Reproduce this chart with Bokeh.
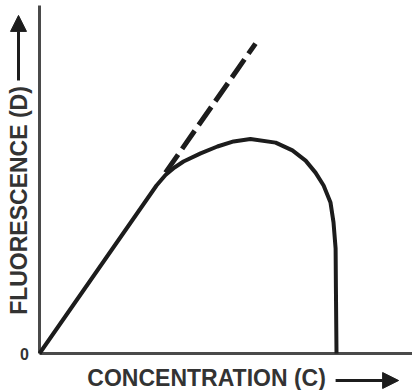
from bokeh.plotting import figure
from bokeh.models import Range1d, Arrow, NormalHead
from bokeh.core.properties import value
from bokeh.embed import file_html
from bokeh.resources import INLINE

# Measured fluorescence D against concentration C (arbitrary units)
conc = [0.0, 3.9, 4.2, 4.5, 4.8, 5.37, 5.93, 6.47, 7.03, 7.87, 8.43, 8.87,
        9.2, 9.47, 9.7, 9.8, 9.87, 9.88, 9.9]
fluor = [0.0, 5.6, 5.95, 6.2, 6.4, 6.67, 6.9, 7.07, 7.15, 7.03, 6.77, 6.43,
         6.03, 5.6, 5.03, 4.37, 3.5, 2.2, 0.0]

# Ideal linear response, continued past the point where the curve bends away
ideal_conc = [4.2, 7.2]
ideal_fluor = [6.03, 10.33]

x_title = "CONCENTRATION (C)"
y_title = "FLUORESCENCE (D)"
origin_label = "0"

INK = "#1c1c1c"
AXIS = "#4a4a4a"
TEXT = "#333333"

p = figure(width=412, height=390, output_backend="svg", toolbar_location=None,
           x_range=Range1d(-1.3, 12.433), y_range=Range1d(-1.233, 11.767),
           min_border=0, x_axis_location=None, y_axis_location=None)
p.grid.visible = False
p.outline_line_color = None
p.background_fill_color = "white"
p.border_fill_color = "white"

# hand-drawn axes
p.line([0, 0], [0, 11.6], line_color=AXIS, line_width=3)
p.line([0, 12.5], [0, 0], line_color=AXIS, line_width=3)

# curves
p.line(ideal_conc, ideal_fluor, line_color=INK, line_width=5, line_dash="22 7")
p.line(conc, fluor, line_color=INK, line_width=4, line_join="round")

# axis direction arrows
p.add_layout(Arrow(end=NormalHead(size=16, fill_color=INK, line_color=INK),
                   x_start=-0.7, y_start=9.1, x_end=-0.7, y_end=11.27,
                   line_color=INK, line_width=3))
p.add_layout(Arrow(end=NormalHead(size=16, fill_color=INK, line_color=INK),
                   x_start=9.87, y_start=-0.9, x_end=11.97, y_end=-0.9,
                   line_color=INK, line_width=3))

font = value("Liberation Sans")
p.text(x=[5.57], y=[-0.8], text=[x_title], text_font=font, text_font_style="bold",
       text_font_size="23px", text_color=TEXT, text_align="center", text_baseline="middle")
p.text(x=[-0.7], y=[5.1], text=[y_title], text_font=font, text_font_style="bold",
       text_font_size="23px", text_color=TEXT, text_align="center", text_baseline="middle",
       angle=1.5708)
p.text(x=[-0.5], y=[0.0], text=[origin_label], text_font=font, text_font_style="bold",
       text_font_size="16px", text_color=TEXT, text_align="center", text_baseline="middle")

open("out.html", "w").write(file_html(p, INLINE))
